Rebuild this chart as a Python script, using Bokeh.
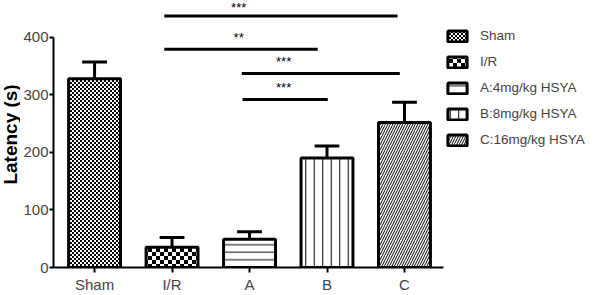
import base64
import struct
import zlib
from math import pi
from bokeh.plotting import figure
from bokeh.layouts import row
from bokeh.models import ColumnDataSource, Legend, LegendItem, FixedTicker, ImageURLTexture, Range1d
from bokeh.core.properties import value
from bokeh.embed import file_html
from bokeh.resources import INLINE

categories = ["Sham", "I/R", "A", "B", "C"]
legend_labels = ["Sham", "I/R", "A:4mg/kg HSYA", "B:8mg/kg HSYA", "C:16mg/kg HSYA"]
means = [328, 35, 49, 190, 252]
errors = [29, 17, 13, 21, 35]
y_ticks = [0, 100, 200, 300, 400]
y_title = "Latency (s)"

# significance comparisons: start x, end x, line level, label x, label y, label
sig_x0 = [0.90, 0.90, 1.90, 1.91]
sig_x1 = [3.91, 2.88, 3.94, 3.01]
sig_y = [437, 379, 337, 292]
sig_text_x = [1.86, 1.86, 2.44, 2.44]
sig_text_y = [439, 387, 345, 300]
sig_labels = ["***", "**", "***", "***"]

FONT = "Liberation Sans"


def checker_png(cell):
    """Tiny grayscale PNG tile with a 2x2 black/white checker of given cell size."""
    n = cell * 2
    raw = b""
    for yy in range(n):
        r_ = bytes(0 if ((xx // cell) + (yy // cell)) % 2 == 0 else 255 for xx in range(n))
        raw += b"\x00" + r_

    def chunk(tag, data):
        c = struct.pack(">I", len(data)) + tag + data
        return c + struct.pack(">I", zlib.crc32(tag + data) & 0xFFFFFFFF)

    png = b"\x89PNG\r\n\x1a\n"
    png += chunk(b"IHDR", struct.pack(">IIBBBBB", n, n, 8, 0, 0, 0, 0))
    png += chunk(b"IDAT", zlib.compress(raw))
    png += chunk(b"IEND", b"")
    return "data:image/png;base64," + base64.b64encode(png).decode("ascii")


extra = {
    "fine_checker": ImageURLTexture(url=checker_png(2)),
    "coarse_checker": ImageURLTexture(url=checker_png(4)),
}

patterns = ["fine_checker", "coarse_checker", "horizontal_line", "vertical_line", "right_diagonal_line"]
scales = [4, 8, 7.5, 8.5, 5]
weights = [1, 1, 1, 1, 1]

xs = list(range(len(categories)))

# narrow panel holding the rotated y-axis title
lab = figure(width=20, height=295, output_backend="svg", toolbar_location=None,
             x_range=Range1d(0, 20), y_range=Range1d(0, 295),
             min_border=0, outline_line_color=None)
lab.axis.visible = False
lab.grid.visible = False
lab.text(x=[10], y=[147], text=[y_title], angle=pi / 2, text_align="center",
         text_baseline="middle", text_font=value(FONT), text_font_style="bold",
         text_font_size="19px", text_color="black")

p = figure(width=580, height=295, output_backend="svg", toolbar_location=None,
           x_range=Range1d(-0.53, 6.53), y_range=Range1d(0, 463.8),
           min_border_left=33, min_border_right=0, min_border_top=0, min_border_bottom=26)
p.outline_line_color = None
p.grid.visible = False
p.background_fill_color = "white"

items = []
for i, c in enumerate(categories):
    src = ColumnDataSource(dict(x=[xs[i]], top=[means[i]]))
    r = p.vbar(x="x", top="top", width=0.67, bottom=0, source=src,
               fill_color="white", line_color="black", line_width=3,
               hatch_pattern=value(patterns[i]), hatch_scale=scales[i], hatch_weight=weights[i],
               hatch_color="black", hatch_extra=extra)
    items.append(LegendItem(label=legend_labels[i], renderers=[r]))

err_top = [m + e for m, e in zip(means, errors)]
p.segment(x0=xs, y0=means, x1=xs, y1=err_top, line_color="black", line_width=3)
p.segment(x0=[x - 0.16 for x in xs], y0=err_top, x1=[x + 0.16 for x in xs], y1=err_top,
          line_color="black", line_width=3)

p.segment(x0=sig_x0, y0=sig_y, x1=sig_x1, y1=sig_y, line_color="black", line_width=3)
p.text(x=sig_text_x, y=sig_text_y, text=sig_labels, text_align="center",
       text_baseline="bottom", text_font=value(FONT), text_font_size="13px", text_color="black")

legend = Legend(items=items, location=(392, 120), glyph_width=24, glyph_height=14,
                label_height=14, spacing=11, padding=0, margin=0, label_standoff=11,
                label_text_font=FONT, label_text_font_size="13.5px",
                background_fill_alpha=0, border_line_color=None)
p.add_layout(legend)

xa = p.xaxis[0]
xa.ticker = FixedTicker(ticks=xs)
xa.major_label_overrides = {i: c for i, c in enumerate(categories)}
xa.bounds = (-0.53, 4.5)
xa.axis_line_width = 2
xa.major_tick_line_width = 2
xa.major_tick_out = 5
xa.major_tick_in = 0
xa.minor_tick_line_color = None
xa.major_label_text_font = FONT
xa.major_label_text_font_size = "15px"
xa.major_label_standoff = 3

ya = p.yaxis[0]
ya.ticker = FixedTicker(ticks=y_ticks)
ya.bounds = (0, 400)
ya.axis_line_width = 2
ya.major_tick_line_width = 2
ya.major_tick_out = 4
ya.major_tick_in = 0
ya.minor_tick_line_color = None
ya.major_label_text_font = FONT
ya.major_label_text_font_size = "15px"
ya.major_label_standoff = 1

layout = row(lab, p, spacing=0)
open("out.html", "w").write(file_html(layout, INLINE))
